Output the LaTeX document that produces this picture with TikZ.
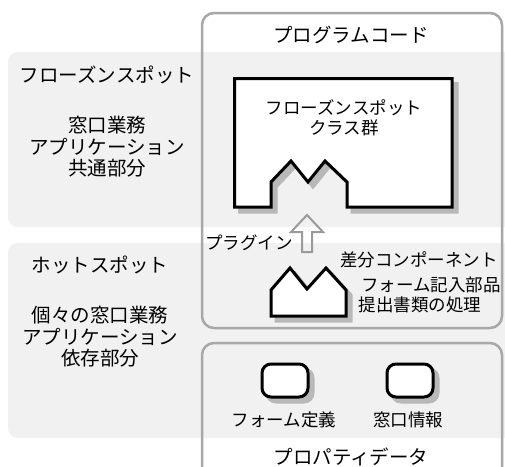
\documentclass[tikz,border=0pt]{standalone}
\usepackage{fontspec}
\setmainfont{Noto Sans CJK JP}
\definecolor{bandgray}{HTML}{F1F1F1}
\definecolor{boxgray}{HTML}{A8A8A8}
\definecolor{arrowgray}{HTML}{9A9A9A}
\definecolor{shadowgray}{HTML}{B8B8B8}
\tikzset{
  band/.style={fill=bandgray, draw=none, rounded corners=10pt},
  cbox/.style={draw=boxgray, line width=2.5pt, rounded corners=12pt},
  blk/.style={draw=black, line width=3pt, fill=white, line join=miter},
  shd/.style={draw=shadowgray, fill=shadowgray, line width=3pt, line join=miter},
  big/.style={font=\fontsize{19.5}{21.5}\selectfont, anchor=base, inner sep=0pt},
  small/.style={font=\fontsize{17.5}{20}\selectfont, anchor=base, inner sep=0pt},
  hollowarrow/.style={draw=arrowgray, line width=2pt, line join=miter},
}
\begin{document}
\begin{tikzpicture}[x=1pt,y=-1pt]
\clip (0,0) rectangle (505,466);
\fill[white] (0,0) rectangle (505,466);
% bands
\path[band] (8,52) rectangle (520,227);
\path[band] (8,243) rectangle (520,438);
% containers
\draw[cbox] (202,13) rectangle (502,328);
\draw[cbox] (202,343) rectangle (502,500);
% frozen spot class box (with notch)
\begin{scope}[shift={(5,5)}]
\path[shd] (234.5,78.5) -- (452,78.5) -- (452,207) -- (347,207) -- (347,182) -- (325,161) -- (308,182) -- (291,161) -- (271,182) -- (271,207) -- (234.5,207) -- cycle;
\end{scope}
\path[blk] (234.5,78.5) -- (452,78.5) -- (452,207) -- (347,207) -- (347,182) -- (325,161) -- (308,182) -- (291,161) -- (271,182) -- (271,207) -- (234.5,207) -- cycle;
% hot spot component
\begin{scope}[shift={(5,5)}]
\path[shd] (271,316) -- (271,290) -- (290,268) -- (307,289) -- (326,268) -- (346,290) -- (346,316) -- cycle;
\end{scope}
\path[blk] (271,316) -- (271,290) -- (290,268) -- (307,289) -- (326,268) -- (346,290) -- (346,316) -- cycle;
% hollow arrow
\draw[hollowarrow] (307,215) -- (323,232) -- (312,232) -- (312,252) -- (302,252) -- (302,232) -- (291,232) -- cycle;
% property items
\begin{scope}[shift={(5,5)}]
\path[shd, rounded corners=9pt] (262,364) rectangle (308,397);
\path[shd, rounded corners=9pt] (387,364) rectangle (433,397);
\end{scope}
\path[blk, rounded corners=9pt] (262,364) rectangle (308,397);
\path[blk, rounded corners=9pt] (387,364) rectangle (433,397);
% texts
\node[big] (pc) at (351,42.2) {プログラムコード};
\node[big] (fz) at (107,82.2) {フローズンスポット};
\node[big] (fz1) at (107,132.2) {窓口業務};
\node[big] (fz2) at (107,154.2) {アプリケーション};
\node[big] (fz3) at (107,175.2) {共通部分};
\node[big] (hs) at (100,272.2) {ホットスポット};
\node[big] (hs1) at (100,322.2) {個々の窓口業務};
\node[big] (hs2) at (100,344.2) {アプリケーション};
\node[big] (hs3) at (100,365.2) {依存部分};
\node[small] (fc1) at (344,114.5) {フローズンスポット};
\node[small] (fc2) at (344,134.5) {クラス群};
\node[small] (pl) at (249,249.5) {プラグイン};
\node[small] (d1) at (419,266.5) {差分コンポーネント};
\node[small] (d2) at (431,291.5) {フォーム記入部品};
\node[small] (d3) at (420,311.5) {提出書類の処理};
\node[small] (p1) at (284,426.5) {フォーム定義};
\node[small] (p2) at (408,426.5) {窓口情報};
\node[big] (pd) at (351,464.2) {プロパティデータ};
\end{tikzpicture}
\end{document}
